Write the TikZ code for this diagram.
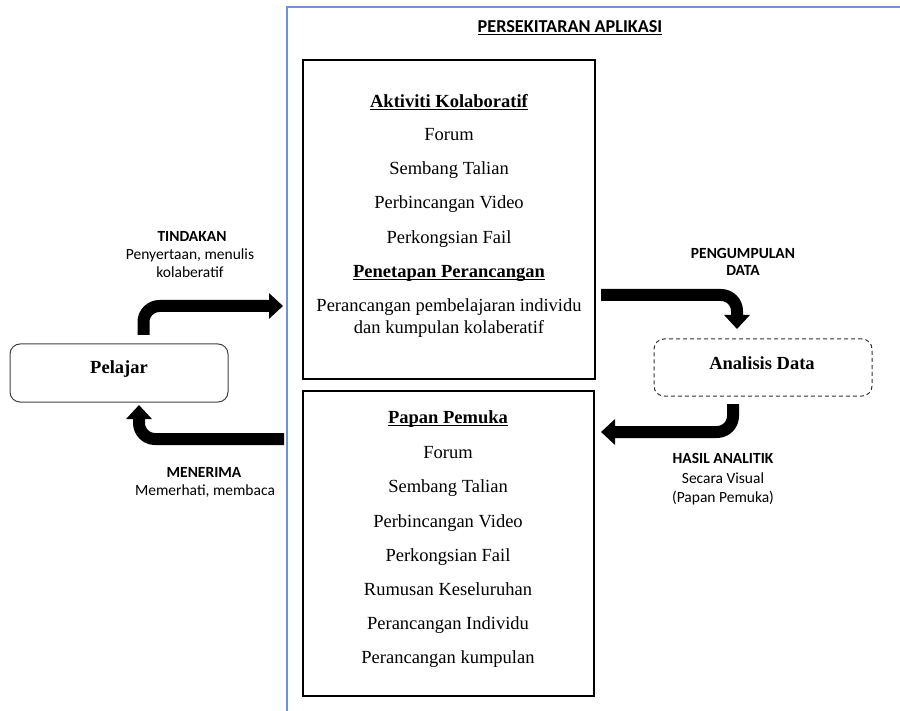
\documentclass[tikz,border=0pt]{standalone}
\usepackage{fontspec}
\setmainfont{Liberation Serif}
\newfontfamily\calib{Carlito}
\usetikzlibrary{arrows.meta}
\definecolor{framec}{RGB}{112,146,212}
\newcommand\ulx[1]{\setbox0\hbox{#1}\leavevmode\rlap{\rule[-3pt]{\wd0}{1.4pt}}\box0}
\begin{document}
\begin{tikzpicture}[x=1pt,y=-1pt,
  txt/.style={font=\fontsize{18.5}{22}\selectfont, inner sep=0pt, anchor=mid, yshift=-4pt},
  btxt/.style={txt, font=\fontsize{18.5}{22}\selectfont\bfseries},
  lbl/.style={font=\calib\fontsize{15.5}{18}\selectfont, inner sep=0pt, anchor=mid, yshift=-3pt},
  blbl/.style={lbl, font=\calib\fontsize{15.5}{18}\selectfont\bfseries},
  bigarrow/.style={line width=12pt, rounded corners=16pt, -{Triangle[width=25pt,length=14pt]}},
  box/.style={draw=black, line width=1.1pt, inner sep=0pt},
]
\useasboundingbox (0,0) rectangle (900,711);
% application frame
\draw[framec, line width=1.1pt] (287,711) -- (287,7) -- (900,7);
\node[font=\calib\fontsize{18.2}{20}\selectfont\bfseries, inner sep=0pt, anchor=mid, yshift=-3pt] (title) at (570,27) {\ulx{PERSEKITARAN APLIKASI}};

% boxes
\node[box, minimum width=292pt, minimum height=319pt] (act) at (449,219.5) {};
\node[box, minimum width=291pt, minimum height=305pt] (papan) at (448.5,543.5) {};
\node[draw=black!75, line width=1pt, rounded corners=10pt, minimum width=218pt, minimum height=58pt] (pel) at (119,373) {};
\node[draw=black!80, line width=1pt, dash pattern=on 4pt off 3pt, rounded corners=10pt, minimum width=218pt, minimum height=57pt] (ana) at (763,367.5) {};
\node[btxt] (pelT) at (119,367) {Pelajar};
\node[btxt] (anaT) at (762,363) {Analisis Data};

% top box text
\node[btxt] (h1) at (449,101) {\ulx{Aktiviti Kolaboratif}};
\node[txt] (a1) at (449,134) {Forum};
\node[txt] (a2) at (449,168.5) {Sembang Talian};
\node[txt] (a3) at (449,202.5) {Perbincangan Video};
\node[txt] (a4) at (449,237) {Perkongsian Fail};
\node[btxt] (h2) at (449,271) {\ulx{Penetapan Perancangan}};
\node[txt] (a5) at (449,305) {Perancangan pembelajaran individu};
\node[txt] (a6) at (449,327) {dan kumpulan kolaberatif};

% bottom box text
\node[btxt] (h3) at (448,417) {\ulx{Papan Pemuka}};
\node[txt] (b1) at (448,452) {Forum};
\node[txt] (b2) at (448,486.5) {Sembang Talian};
\node[txt] (b3) at (448,521) {Perbincangan Video};
\node[txt] (b4) at (448,555) {Perkongsian Fail};
\node[txt] (b5) at (448,589.5) {Rumusan Keseluruhan};
\node[txt] (b6) at (448,623) {Perancangan Individu};
\node[txt] (b7) at (448,657) {Perancangan kumpulan};

% labels
\node[blbl] (t1) at (192,236) {TINDAKAN};
\node[lbl] (t2) at (190,254) {Penyertaan, menulis};
\node[lbl] (t3) at (190,272) {kolaberatif};
\node[blbl] (m1) at (204,472) {MENERIMA};
\node[lbl] (m2) at (205,490) {Memerhati, membaca};
\node[blbl] (p1) at (743,253) {PENGUMPULAN};
\node[blbl] (p2) at (743,270) {DATA};
\node[blbl] (r1) at (723,458) {HASIL ANALITIK};
\node[lbl] (r2) at (723,478) {Secara Visual};
\node[lbl] (r3) at (723,497) {(Papan Pemuka)};

% arrows
\coordinate (s1) at (143.5,335);
\coordinate (e1) at (283,306);
\draw[bigarrow] (s1) |- (e1);
\coordinate (s2) at (284,439);
\coordinate (e2) at (139,405);
\draw[bigarrow] (s2) -| (e2);
\coordinate (s3) at (601,295);
\coordinate (e3) at (737,329);
\draw[bigarrow] (s3) -| (e3);
\coordinate (s4) at (733,404);
\coordinate (e4) at (601,432);
\draw[bigarrow] (s4) |- (e4);
\end{tikzpicture}
\end{document}
